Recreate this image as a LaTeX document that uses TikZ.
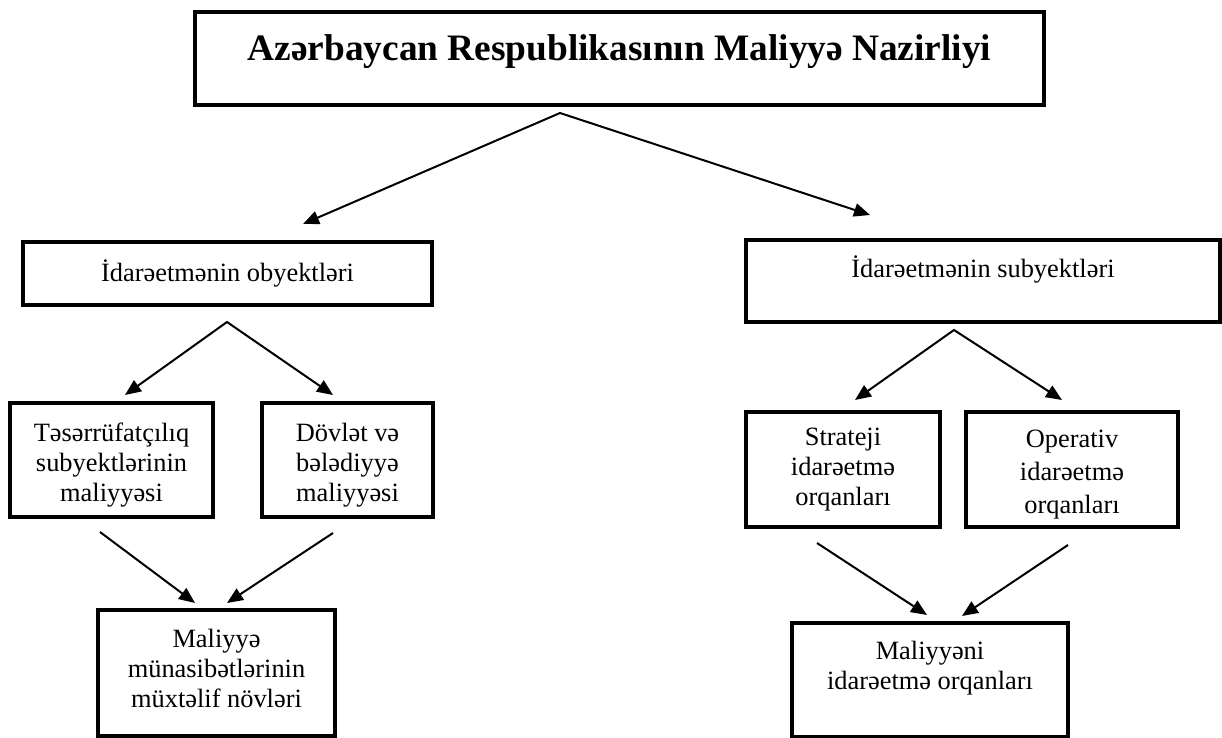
\documentclass[tikz,border=0pt]{standalone}
\usepackage{fontspec}
\setmainfont{Liberation Serif}
\usetikzlibrary{arrows.meta}
\newcommand{\padbelow}[1]{\rule[-#1]{0pt}{0pt}}
\newcommand{\padabove}[1]{\rule{0pt}{#1}}
\tikzset{
  box/.style 2 args={
    draw,
    line width=3.4pt,
    minimum width=#1*0.75pt,
    minimum height=#2*0.75pt,
    inner sep=0pt,
    align=center,
    font=\fontsize{19.8}{22.5}\selectfont},
  flow/.style={line width=1.5pt, -{Triangle[length=12pt, width=10pt]}},
  fork/.style={line width=1.5pt, {Triangle[length=12pt, width=10pt]}-{Triangle[length=12pt, width=10pt]}},
}

\begin{document}
\begin{tikzpicture}[x=0.75pt, y=-0.75pt]
  \useasboundingbox (0,0) rectangle (1222,738);

  % ministry
  \node[box={849}{93}, font=\bfseries\fontsize{28}{32}\selectfont] (mof) at (619.5,58.5) {Azərbaycan Respublikasının Maliyyə Nazirliyi\padbelow{17pt}};

  % objects and subjects
  \node[box={409}{63}] (obj) at (227.5,273.5) {İdarəetmənin obyektləri};
  \node[box={474}{82}] (subj) at (983,281) {İdarəetmənin subyektləri\padbelow{22pt}};

  % left branch
  \node[box={203}{114}] (tes) at (111.5,460) {\padabove{22pt}Təsərrüfatçılıq\\subyektlərinin\\maliyyəsi};
  \node[box={171}{114}] (dov) at (347.5,460) {\padabove{22pt}Dövlət və\\bələdiyyə\\maliyyəsi};
  \node[box={237}{126}] (mun) at (216.5,673) {Maliyyə\\münasibətlərinin\\müxtəlif növləri\padbelow{7pt}};

  % right branch
  \node[box={194}{115}] (str) at (843,469.5) {Strateji\\idarəetmə\\orqanları};
  \node[box={212}{115}, font=\fontsize{19.8}{24.75}\selectfont] (opr) at (1072,469.5) {\padabove{21pt}Operativ\\idarəetmə\\orqanları};
  \node[box={276}{114}] (org) at (930,680) {Maliyyəni\\idarəetmə orqanları\padbelow{22pt}};

  % arrow ends
  \coordinate (mof-fork) at (560,113);
  \coordinate (obj-in) at (303,224);
  \coordinate (subj-in) at (870,215);
  \coordinate (obj-fork) at (227,322);
  \coordinate (tes-in) at (125,395);
  \coordinate (dov-in) at (333,395);
  \coordinate (tes-out) at (100,532);
  \coordinate (dov-out) at (333,533);
  \coordinate (mun-in1) at (195,603);
  \coordinate (mun-in2) at (227,603);
  \coordinate (subj-fork) at (954,330);
  \coordinate (str-in) at (855,400);
  \coordinate (opr-in) at (1062,400);
  \coordinate (str-out) at (817,543);
  \coordinate (opr-out) at (1068,545);
  \coordinate (org-in1) at (927,615);
  \coordinate (org-in2) at (962,616);

  \foreach \l/\f/\r in {obj-in/mof-fork/subj-in, tes-in/obj-fork/dov-in, str-in/subj-fork/opr-in}
    \draw[fork] (\l) -- (\f) -- (\r);

  \foreach \a/\b in {tes-out/mun-in1, dov-out/mun-in2, str-out/org-in1, opr-out/org-in2}
    \draw[flow] (\a) -- (\b);
\end{tikzpicture}
\end{document}
